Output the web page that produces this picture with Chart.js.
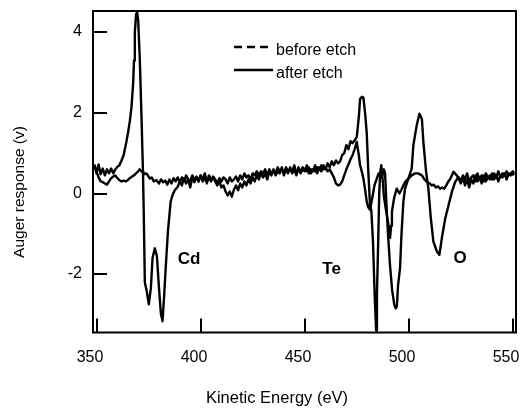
<!DOCTYPE html>
<html>
<head>
<meta charset="utf-8">
<script src="https://cdn.jsdelivr.net/npm/chart.js@4.4.1/dist/chart.umd.min.js"></script>
<style>
  html, body { margin: 0; padding: 0; background: #fff; }
  canvas { display: block; }
</style>
</head>
<body>
<canvas id="chart" width="520" height="409"></canvas>
<script>
// tick values and text
const xTickValues = [350, 400, 450, 500, 550];
const yTickValues = [-2, 0, 2, 4];
const xTitle = "Kinetic Energy (eV)";
const yTitle = "Auger response (v)";
const seriesNames = ["before etch", "after etch"];
const peakNames = ["Cd", "Te", "O"];
const peakAtEnergy = [394.4, 462.9, 524.7];
const peakAtResponse = [-1.63, -1.88, -1.61];

// after etch (big Cd and Te features)
const afterX = [349,350,351,352,353,354,355,356,357,358,359,360,361,362,363,363.6,364.4,365.2,366,366.8,367.6,368,368.4,369,369.5,370,370.8,371.6,372.3,372.7,373.2,374.2,375.1,376.1,376.9,378,379,380,380.9,381.7,382.4,383.3,384.3,385.6,386.5,387.6,389,
  390,391,392,393,394,395,396,397,398,399,400,401,402,403,404,405,406,407,408,409,410,411,412,413,414,415,416,417,418,419,420,421,422,423,424,425,426,427,428,429,430,431,432,433,434,435,436,437,438,439,440,441,442,443,444,445,446,447,448,449,450,451,452,453,454,455,456,457,458,459,460,461,462,463,464,465,466,467,468,469,470,471,472,473,474,475,476,476.6,477.5,478.2,479,479.8,480.5,481.4,482,482.8,483.6,484.3,484.7,485.3,485.8,486.3,486.8,487.5,488,489,490.3,491,491.5,491.9,493,494.2,495.5,496.5,497.4,498.5,499.8,501.4,503,504.5,506.3,507.5,508.7,510,511,512,513,514,515,516,517,518,519,520,521.5,523,524,
  525,526,527,528,529,530,531,532,533,534,535,536,537,538,539,540,541,542,543,544,545,546,547,548,549,550,550.5];
const afterY = [0.7,0.5,0.72,0.48,0.62,0.45,0.6,0.5,0.62,0.5,0.6,0.66,0.7,0.82,0.95,1.1,1.3,1.53,1.8,2.15,2.75,3.3,4.0,4.45,4.5,4.3,3.3,1.9,0.55,-0.55,-2.2,-2.45,-2.75,-2.35,-1.6,-1.36,-1.55,-2.35,-2.97,-3.17,-2.6,-1.78,-0.94,-0.2,-0.04,0.08,0.17,
  0.3,0.2,0.38,0.25,0.35,0.15,0.4,0.28,0.42,0.3,0.45,0.3,0.4,0.25,0.45,0.35,0.4,0.3,0.2,0.3,0.15,0.2,0.05,-0.05,0.05,-0.08,0.1,0.2,0.08,0.25,0.15,0.3,0.2,0.35,0.25,0.4,0.3,0.45,0.35,0.5,0.4,0.5,0.35,0.55,0.45,0.6,0.45,0.55,0.5,0.65,0.45,0.6,0.5,0.65,0.5,0.6,0.45,0.65,0.5,0.6,0.55,0.7,0.5,0.6,0.55,0.7,0.5,0.65,0.55,0.7,0.6,0.75,0.65,0.8,0.7,0.82,0.75,0.8,0.95,1.0,1.2,1.1,1.3,1.25,1.32,1.4,1.9,2.35,2.4,2.38,2.0,1.5,0.6,-0.3,-0.42,-1.2,-2.5,-3.4,-2.5,-1.2,0.0,0.55,0.7,0.3,-0.05,-0.4,-0.8,-1.1,-0.8,-0.45,-0.1,0.12,0.0,0.1,0.2,0.3,0.37,0.45,0.5,0.5,0.45,0.35,0.29,0.25,0.2,0.22,0.15,0.18,0.12,0.15,0.12,0.2,0.3,0.37,0.54,0.45,0.37,
  0.25,0.4,0.2,0.35,0.15,0.35,0.25,0.45,0.3,0.4,0.25,0.45,0.3,0.4,0.35,0.5,0.35,0.45,0.3,0.45,0.4,0.5,0.35,0.5,0.45,0.5,0.45];

// before etch (big O feature)
const beforeX = [349,350,351,352,353,354,355,356,357,358,359,360,361,362,363,364,365,366,367,368,369,370,370.8,371.5,372.4,373,374,375,375.6,376.5,377.5,378.8,380,381,382,383,384,385,386,387,388,389,
  390,391,392,393,394,395,396,397,398,399,400,401,402,403,404,405,406,407,408,409,410,411,412,413,414,415,416,417,418,419,420,421,422,423,424,425,426,427,428,429,430,431,432,433,434,435,436,437,438,439,440,441,442,443,444,445,446,447,448,449,450,451,452,453,454,455,456,457,458,459,460,461,462,463,464,465,466,467,468,469,470,471,472,473,474,475,476,476.6,477.4,478.2,479,479.8,480.6,481.4,482.5,483.5,484.5,485.5,486.5,487.3,488,488.6,489.2,490,491,492,493,493.7,494.3,494.8,495.8,496.5,497.4,498.2,499.8,501.4,502.2,503.8,505.1,506.3,507,508.3,509.4,510.6,511.8,513.5,514.7,515.9,517.5,519.1,520.7,522.3,523.9,
  525,526,527,528,529,530,531,532,533,534,535,536,537,538,539,540,541,542,543,544,545,546,547,548,549,550,550.5];
const beforeY = [0.72,0.55,0.4,0.3,0.28,0.25,0.22,0.3,0.38,0.42,0.45,0.38,0.33,0.3,0.32,0.3,0.33,0.38,0.42,0.45,0.5,0.55,0.6,0.55,0.54,0.48,0.5,0.42,0.37,0.4,0.3,0.33,0.25,0.35,0.28,0.32,0.22,0.35,0.25,0.38,0.3,0.4,
  0.28,0.4,0.3,0.45,0.35,0.3,0.45,0.35,0.4,0.3,0.45,0.35,0.5,0.3,0.4,0.3,0.42,0.35,0.25,0.38,0.3,0.4,0.35,0.25,0.4,0.3,0.35,0.42,0.3,0.45,0.35,0.5,0.4,0.45,0.35,0.5,0.45,0.55,0.45,0.55,0.5,0.6,0.45,0.6,0.5,0.55,0.5,0.65,0.55,0.6,0.5,0.65,0.55,0.6,0.55,0.7,0.5,0.6,0.55,0.65,0.6,0.55,0.65,0.5,0.6,0.55,0.65,0.6,0.7,0.6,0.65,0.55,0.6,0.5,0.4,0.25,0.2,0.22,0.3,0.45,0.6,0.72,0.85,0.95,1.1,1.28,0.95,0.7,0.55,0.37,0.1,-0.2,-0.35,-0.4,-0.1,0.2,0.35,0.5,0.4,0.45,0.6,0.5,-0.2,-1.0,-1.8,-2.4,-2.75,-2.85,-2.8,-2.3,-1.85,-1.0,-0.2,0.12,0.37,0.62,1.2,1.69,1.98,1.85,1.28,0.54,0.12,-0.62,-1.19,-1.44,-1.52,-1.1,-0.62,-0.29,0.04,0.29,0.41,
  0.3,0.45,0.35,0.5,0.3,0.4,0.45,0.3,0.5,0.35,0.45,0.3,0.5,0.4,0.45,0.35,0.5,0.4,0.55,0.4,0.5,0.45,0.55,0.45,0.5,0.55,0.5];

const FONT = '"Liberation Sans", Arial, sans-serif';

const toPoints = (xs, ys) => xs.map((x, i) => ({ x, y: ys[i] }));

const framePlugin = {
  id: "frame",
  afterDraw(chart) {
    const { ctx, chartArea: a, scales } = chart;
    const xs = scales.x, ys = scales.y;
    ctx.save();
    ctx.strokeStyle = "#000";
    ctx.fillStyle = "#000";
    ctx.lineWidth = 2;
    ctx.strokeRect(a.left, a.top, a.right - a.left, a.bottom - a.top);

    // inward ticks + tick labels (labels sit a bit left of their tick, as in the original)
    ctx.beginPath();
    ctx.font = "16px " + FONT;
    ctx.textAlign = "center";
    ctx.textBaseline = "middle";
    xTickValues.forEach(v => {
      const px = Math.round(xs.getPixelForValue(v));
      ctx.moveTo(px, a.bottom);
      ctx.lineTo(px, a.bottom - 14);
      ctx.fillText(String(v), px - 7, a.bottom + 25);
    });
    ctx.textAlign = "right";
    yTickValues.forEach(v => {
      const py = Math.round(ys.getPixelForValue(v));
      ctx.moveTo(a.left, py);
      ctx.lineTo(a.left + 14, py);
      ctx.fillText(String(v), a.left - 11, py);
    });
    ctx.stroke();

    // axis titles
    ctx.textAlign = "center";
    ctx.font = "16.5px " + FONT;
    ctx.fillText(xTitle, 277, 398);
    ctx.save();
    ctx.translate(20, 192);
    ctx.rotate(-Math.PI / 2);
    ctx.font = "15.5px " + FONT;
    ctx.fillText(yTitle, 0, 0);
    ctx.restore();

    // legend
    ctx.textAlign = "left";
    ctx.font = "16px " + FONT;
    ctx.lineWidth = 2.4;
    ctx.beginPath();
    ctx.setLineDash([8, 5]);
    ctx.moveTo(234, 47);
    ctx.lineTo(273, 47);
    ctx.stroke();
    ctx.setLineDash([]);
    ctx.beginPath();
    ctx.moveTo(234, 70);
    ctx.lineTo(273, 70);
    ctx.stroke();
    ctx.fillText(seriesNames[0], 276, 51);
    ctx.fillText(seriesNames[1], 276, 74);

    // peak labels
    ctx.textAlign = "center";
    ctx.font = "bold 17px " + FONT;
    peakNames.forEach((name, i) => {
      ctx.fillText(name, xs.getPixelForValue(peakAtEnergy[i]), ys.getPixelForValue(peakAtResponse[i]));
    });
    ctx.restore();
  },
};

new Chart(document.getElementById("chart"), {
  type: "line",
  data: {
    datasets: [
      {
        label: seriesNames[0],
        data: toPoints(beforeX, beforeY),
        borderColor: "#000",
        borderWidth: 2.4,
        borderJoinStyle: "round",
        pointRadius: 0,
        tension: 0,
      },
      {
        label: seriesNames[1],
        data: toPoints(afterX, afterY),
        borderColor: "#000",
        borderWidth: 2.4,
        borderJoinStyle: "round",
        pointRadius: 0,
        tension: 0,
      },
    ],
  },
  options: {
    responsive: false,
    animation: false,
    devicePixelRatio: 1,
    layout: { padding: { top: 11, right: 4, left: 0, bottom: 0 } },
    plugins: { legend: { display: false }, tooltip: { enabled: false } },
    scales: {
      x: {
        type: "linear",
        min: 348.3,
        max: 551.5,
        afterBuildTicks: s => { s.ticks = xTickValues.map(v => ({ value: v })); },
        afterFit: s => { s.height = 76.5; },
        grid: { display: false, drawTicks: false },
        border: { display: false },
        ticks: { display: false },
      },
      y: {
        type: "linear",
        min: -3.45,
        max: 4.53,
        afterBuildTicks: s => { s.ticks = yTickValues.map(v => ({ value: v })); },
        afterFit: s => { s.width = 93; },
        grid: { display: false, drawTicks: false },
        border: { display: false },
        ticks: { display: false },
      },
    },
  },
  plugins: [framePlugin],
});
</script>
</body>
</html>
